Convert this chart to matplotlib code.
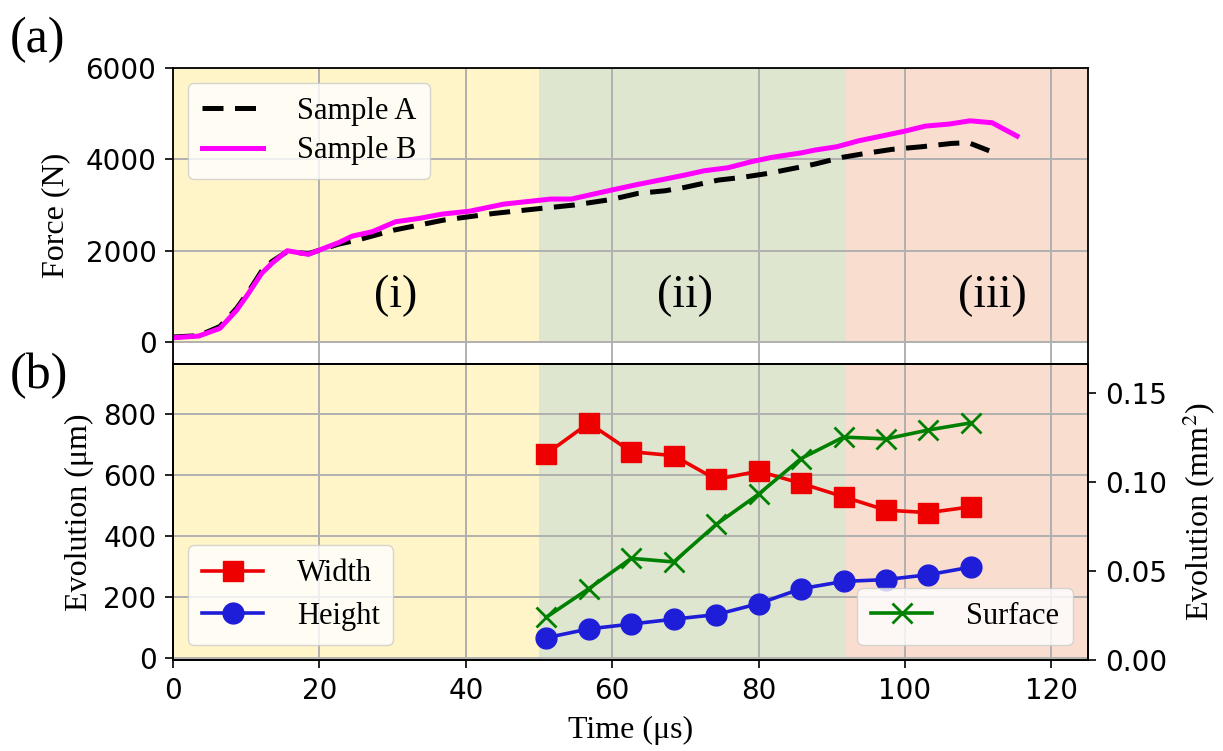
import matplotlib
matplotlib.use('Agg')
import matplotlib.pyplot as plt

plt.rcParams['mathtext.fontset'] = 'stix'
SERIF = 'Liberation Serif'

# force curves (time in us, force in N)
t_a = [0, 3.5, 6.4, 8.7, 10.3, 12.1, 13.5, 15.6, 18.5, 20.8, 22.6, 25.2, 30.2, 37.0,
       43.9, 50.3, 54.8, 59.9, 63.5, 67.2, 69.9, 74.5, 77.7, 81.3, 85.9, 87.7, 91.4,
       94.6, 98.2, 102.3, 106.4, 108.7, 111.5]
force_a = [110, 140, 340, 740, 1100, 1550, 1760, 1980, 1930, 2050, 2140, 2230, 2448, 2667,
           2813, 2922, 2995, 3118, 3249, 3307, 3381, 3541, 3599, 3687, 3832, 3891, 4037,
           4124, 4212, 4270, 4343, 4357, 4182]
t_b = [0, 3.5, 6.4, 8.7, 10.3, 12.1, 13.5, 15.6, 18.5, 20.8, 22.6, 24.5, 27.2, 30.4,
       33.6, 36.8, 40.5, 45.2, 51.6, 54.4, 59.9, 63.5, 67.2, 69.9, 72.6, 75.8, 79.0,
       81.8, 85.9, 87.7, 90.7, 93.7, 96.8, 100.0, 102.8, 106.0, 108.9, 111.9, 115.3]
force_b = [94, 131, 299, 699, 1064, 1501, 1720, 1996, 1917, 2062, 2171, 2317, 2411, 2630,
           2703, 2798, 2860, 3016, 3126, 3126, 3322, 3446, 3563, 3650, 3745, 3810, 3942,
           4037, 4138, 4197, 4270, 4401, 4503, 4612, 4721, 4765, 4837, 4794, 4503]

# geometry evolution
t_img = [51.0, 56.8, 62.6, 68.4, 74.2, 80.0, 85.8, 91.6, 97.4, 103.2, 109.0]
width = [670, 771, 677, 664, 586, 613, 573, 529, 485, 477, 496]
height = [66, 95, 111, 127, 142, 178, 227, 251, 257, 273, 298]
surface = [0.024, 0.040, 0.057, 0.055, 0.076, 0.093, 0.113, 0.125, 0.124, 0.129, 0.133]

# stages
stage_edges = [0, 50, 92, 125]
stage_colors = ['#fff5c8', '#dee6d0', '#f9ded0']
stage_labels = ['(i)', '(ii)', '(iii)']
stage_label_x = [30.4, 70, 112]

fig = plt.figure(figsize=(12.23, 7.51), dpi=100)
ax1 = fig.add_axes([0.1415, 0.5153, 0.7481, 0.3947])
ax2 = fig.add_axes([0.1415, 0.1212, 0.7481, 0.3941], sharex=ax1)

leg_kw = dict(prop={'family': SERIF, 'size': 22}, handlelength=2.0, borderpad=0.45,
              handletextpad=1.1, borderaxespad=0.5)

# ---- (a) force ----
ylo, yhi = -480, 6000
for i in range(3):
    ax1.axvspan(stage_edges[i], stage_edges[i + 1], ymin=-ylo / (yhi - ylo), ymax=1,
                color=stage_colors[i], lw=0)
    ax1.text(stage_label_x[i], 1000, stage_labels[i], fontsize=33, family=SERIF,
             ha='center', va='center')
ax1.plot(t_a, force_a, color='black', lw=3.6, ls=(0, (4.2, 2.3)), label='Sample A')
ax1.plot(t_b, force_b, color='magenta', lw=3.6, label='Sample B')
ax1.set_ylim(ylo, yhi)
ax1.set_xlim(0, 125)
ax1.set_yticks([0, 2000, 4000, 6000])
ax1.grid(True, color='#b0b0b0', lw=1.4)
ax1.tick_params(axis='x', length=0, labelbottom=False)
ax1.tick_params(axis='y', labelsize=20, length=6, width=1.2, pad=6)
ax1.set_ylabel('Force (N)', fontsize=23, family=SERIF, labelpad=11)
ax1.legend(loc='upper left', labelspacing=0.35, **leg_kw)

# ---- (b) geometry ----
for i in range(3):
    ax2.axvspan(stage_edges[i], stage_edges[i + 1], color=stage_colors[i], lw=0)
l1, = ax2.plot(t_img, width, color='#ee0000', lw=2.6, marker='s', ms=15, label='Width')
l2, = ax2.plot(t_img, height, color='#1e1ed8', lw=2.6, marker='o', ms=15, label='Height')
ax2.set_ylim(-7, 965)
ax2.set_yticks([0, 200, 400, 600, 800])
ax2.set_xticks([0, 20, 40, 60, 80, 100, 120])
ax2.grid(True, color='#b0b0b0', lw=1.4)
ax2.tick_params(labelsize=20, length=6, width=1.2, pad=6)
ax2.set_ylabel('Evolution (\u03bcm)', fontsize=23, family=SERIF, labelpad=7)
ax2.set_xlabel('Time (\u03bcs)', fontsize=23, family=SERIF, labelpad=8)
ax2.legend(handles=[l1, l2], loc='lower left', labelspacing=0.45, **leg_kw)

ax3 = ax2.twinx()
l3, = ax3.plot(t_img, surface, color='green', lw=2.6, marker='x', ms=14, mew=2,
               label='Surface')
ax3.set_ylim(0, 0.166)
ax3.set_yticks([0, 0.05, 0.10, 0.15])
ax3.set_yticklabels(['0.00', '0.05', '0.10', '0.15'])
ax3.tick_params(labelsize=20, length=6, width=1.2, pad=6)
ax3.set_ylabel('Evolution (mm$^2$)', fontsize=23, family=SERIF, labelpad=10)
ax3.legend(handles=[l3], loc='lower right', **leg_kw)

for ax in (ax1, ax2, ax3):
    for s in ax.spines.values():
        s.set_linewidth(1.3)

fig.text(0.008, 0.93, '(a)', fontsize=36, family=SERIF)
fig.text(0.008, 0.483, '(b)', fontsize=36, family=SERIF)

fig.savefig('out.png', dpi=100)
